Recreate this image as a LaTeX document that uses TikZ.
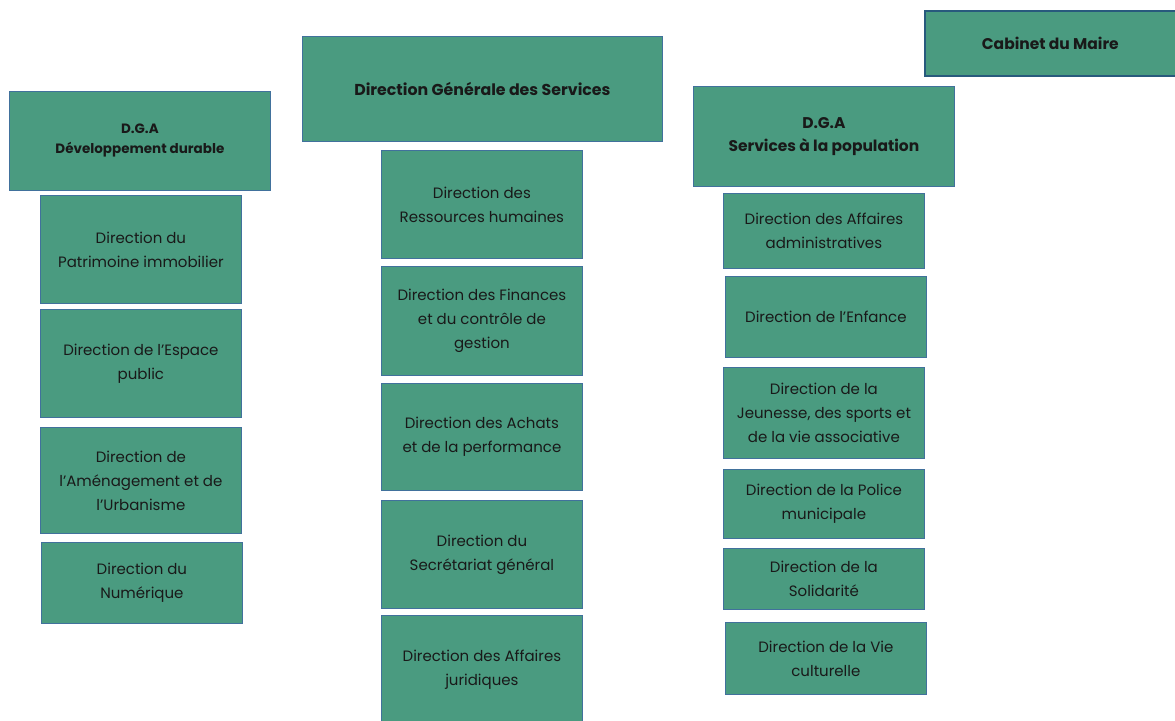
\documentclass[tikz,border=0pt]{standalone}
\usepackage{fontspec}
\setmainfont{Poppins}
\definecolor{boxfill}{RGB}{74,155,128}
\definecolor{boxline}{RGB}{65,113,156}
\definecolor{capline}{RGB}{40,90,125}
\definecolor{txt}{RGB}{25,25,25}
\tikzset{
  orgbox/.style={draw=boxline, line width=0.8pt, fill=boxfill, anchor=north west,
    inner sep=2pt, align=center, text=txt, font=\fontsize{15}{24}\selectfont},
  headbox/.style={orgbox, font=\fontsize{15.5}{23}\bfseries\selectfont},
}
\begin{document}
\begin{tikzpicture}[x=1pt,y=1pt]
\useasboundingbox (0,0) rectangle (1175,-720);
% headers
\node[headbox, draw=capline, line width=1.6pt, minimum width=251pt, minimum height=65pt] (cab) at (924,-10) {Cabinet du Maire};
\node[headbox, font=\fontsize{15.8}{23}\bfseries\selectfont, minimum width=360pt, minimum height=105pt] (dgs) at (302,-36) {Direction Générale des Services};
\node[headbox, font=\fontsize{13.5}{20}\bfseries\selectfont, minimum width=261pt, minimum height=99pt] (dgadd) at (9,-91) {D.G.A\\Développement durable};
\node[headbox, minimum width=261pt, minimum height=100pt] (dgasp) at (693,-86) {D.G.A\\Services à la population};
% left column
\node[orgbox, minimum width=201pt, minimum height=108pt] (patr) at (40,-195) {Direction du\\Patrimoine immobilier};
\node[orgbox, minimum width=201pt, minimum height=108pt] (esp) at (40,-309) {Direction de l'Espace\\public};
\node[orgbox, minimum width=201pt, minimum height=106pt] (amen) at (40,-427) {Direction de\\l'Aménagement et de\\l'Urbanisme};
\node[orgbox, minimum width=201pt, minimum height=81pt] (num) at (41,-542) {Direction du\\Numérique};
% middle column
\node[orgbox, minimum width=201pt, minimum height=108pt] (rh) at (381,-150) {Direction des\\Ressources humaines};
\node[orgbox, minimum width=201pt, minimum height=109pt] (fin) at (381,-266) {Direction des Finances\\et du contrôle de\\gestion};
\node[orgbox, minimum width=201pt, minimum height=107pt] (ach) at (381,-383) {Direction des Achats\\et de la performance};
\node[orgbox, minimum width=201pt, minimum height=108pt] (sec) at (381,-500) {Direction du\\Secrétariat général};
\node[orgbox, minimum width=201pt, minimum height=108pt] (jur) at (381,-615) {Direction des Affaires\\juridiques};
% right column
\node[orgbox, minimum width=201pt, minimum height=75pt] (adm) at (723,-193) {Direction des Affaires\\administratives};
\node[orgbox, minimum width=201pt, minimum height=81pt] (enf) at (725,-276) {Direction de l'Enfance};
\node[orgbox, minimum width=201pt, minimum height=91pt] (jeu) at (723,-367) {Direction de la\\Jeunesse, des sports et\\de la vie associative};
\node[orgbox, minimum width=201pt, minimum height=69pt] (pol) at (723,-469) {Direction de la Police\\municipale};
\node[orgbox, minimum width=201pt, minimum height=61pt] (sol) at (723,-548) {Direction de la\\Solidarité};
\node[orgbox, minimum width=201pt, minimum height=72pt] (cul) at (725,-622) {Direction de la Vie\\culturelle};
\end{tikzpicture}
\end{document}
